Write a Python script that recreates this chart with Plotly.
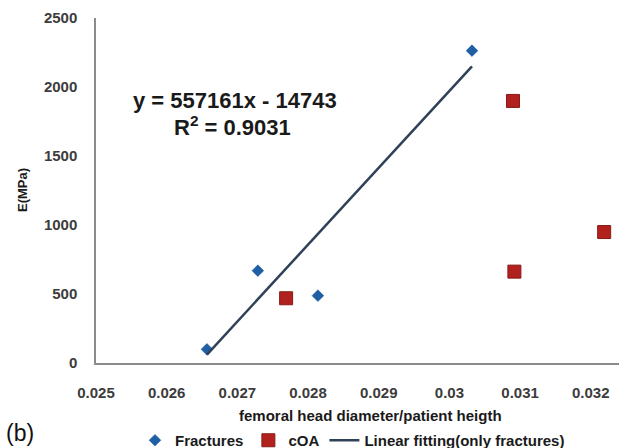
import plotly.graph_objects as go

# ---- data ----
fract_x = [0.02657, 0.02729, 0.02814, 0.03032]
fract_y = [99, 669, 488, 2263]
coa_x = [0.02769, 0.03090, 0.03092, 0.03219]
coa_y = [469, 1899, 662, 949]
fit_slope = 557161
fit_intercept = -14743
x_ticks = [0.025, 0.026, 0.027, 0.028, 0.029, 0.030, 0.031, 0.032]
x_tick_labels = ["0.025", "0.026", "0.027", "0.028", "0.029", "0.03", "0.031", "0.032"]
y_ticks = [0, 500, 1000, 1500, 2000, 2500]
y_tick_labels = ["0", "500", "1000", "1500", "2000", "2500"]

fit_x = [min(fract_x), max(fract_x)]
fit_y = [fit_slope * v + fit_intercept for v in fit_x]

FONT = "Liberation Sans, Arial, sans-serif"
W, H = 627, 448
L, R, T, B = 96, 8, 18, 85

fig = go.Figure()
fig.add_trace(go.Scatter(
    x=fract_x, y=fract_y, mode="markers", name="Fractures",
    marker=dict(symbol="diamond", size=9, color="#1f5fa6",
                line=dict(width=0.5, color="#1a4f8c")),
))
fig.add_trace(go.Scatter(
    x=coa_x, y=coa_y, mode="markers", name="cOA",
    marker=dict(symbol="square", size=13, color="#b1211d",
                line=dict(width=1, color="#8a1a17")),
))
fig.add_trace(go.Scatter(
    x=fit_x, y=fit_y, mode="lines", name="Linear fitting(only fractures)",
    line=dict(color="#2f4158", width=2.5),
))

def px_x(p):
    return (p - L) / (W - L - R)

def px_y(p):
    return 1 - (p - T) / (H - T - B)

def ann(text, x, y, size, color="#1a1a1a", **kw):
    d = dict(text=text, x=px_x(x), y=px_y(y), xref="paper", yref="paper",
             showarrow=False, xanchor="center", yanchor="middle",
             font=dict(family=FONT, size=size, color=color))
    d.update(kw)
    return d

annotations = [
    ann("<b>y = 557161x - 14743</b>", 234.5, 100, 22),
    ann("<b>R<sup>2</sup> = 0.9031</b>", 232, 126, 22),
    ann("<b>femoral head diameter/patient heigth</b>", 370.5, 415, 15),
    ann("<b>E(MPa)</b>", 22, 190, 13, textangle=-90),
    ann("(b)", 4, 433, 23, color="#111111", xanchor="left"),
]

fig.update_layout(
    width=W, height=H,
    margin=dict(l=L, r=R, t=T, b=B),
    paper_bgcolor="white", plot_bgcolor="white",
    font=dict(family=FONT, color="#404040"),
    showlegend=True,
    legend=dict(orientation="h", xref="container", yref="container",
                x=135 / W, y=1 - 424 / H, xanchor="left", yanchor="top",
                font=dict(family=FONT, size=15, color="#1a1a1a", weight="bold"),
                bgcolor="rgba(0,0,0,0)", itemwidth=30, tracegroupgap=0),
    annotations=annotations,
    xaxis=dict(range=[0.025, 0.0324], tickvals=x_ticks, ticktext=x_tick_labels,
               showgrid=False, zeroline=False, showline=True,
               linecolor="#8c8c8c", linewidth=1.5, ticks="",
               ticklabelstandoff=15,
               tickfont=dict(family=FONT, size=15, color="#3c3c3c", weight="bold")),
    yaxis=dict(range=[0, 2500], tickvals=y_ticks, ticktext=y_tick_labels,
               showgrid=False, zeroline=False, showline=True,
               linecolor="#8c8c8c", linewidth=1.5, ticks="",
               ticklabelstandoff=14,
               tickfont=dict(family=FONT, size=15, color="#3c3c3c", weight="bold")),
)

fig.write_html("out.html")
